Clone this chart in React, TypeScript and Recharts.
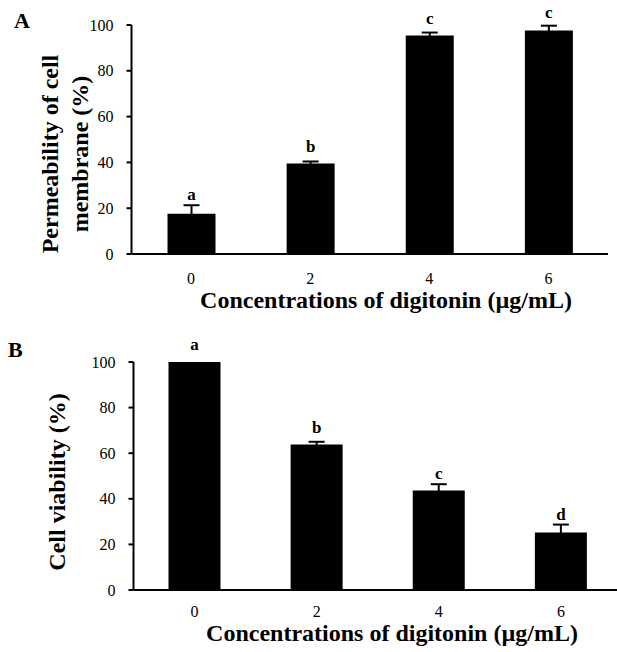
import React from 'react';
import { ComposedChart, Bar, XAxis, YAxis, ErrorBar, LabelList } from 'recharts';

const categories = ['0', '2', '4', '6'];
const permeability = [17.6, 39.5, 95.4, 97.6];
const permeabilityErr = [3.7, 0.9, 1.3, 2.1];
const permeabilityLetters = ['a', 'b', 'c', 'c'];
const viability = [100, 63.8, 43.6, 25.2];
const viabilityErr = [0, 1.2, 2.8, 3.5];
const viabilityLetters = ['a', 'b', 'c', 'd'];
const yTicks = [0, 20, 40, 60, 80, 100];

const serif = '"Liberation Serif", "Times New Roman", serif';
const tickStyle = { fontFamily: serif, fontSize: 16, fill: '#000' };

type PanelProps = {
  values: number[];
  errs: number[];
  letters: string[];
  width: number;
  height: number;
  margin: { top: number; right: number; bottom: number; left: number };
  barSize: number;
  xTickMargin: number;
};

function Panel({ values, errs, letters, width, height, margin, barSize, xTickMargin }: PanelProps) {
  const data = categories.map((c, i) => ({ name: c, value: values[i], err: errs[i] }));

  // letter sits just above the error bar cap
  const renderLetter = (props: any) => {
    const { x, y, width: w, height: h, index } = props;
    const v = values[index];
    const pxPer = v ? h / v : 0;
    const errPx = errs[index] * pxPer;
    const gap = Math.max(errPx + 5, 12);
    return (
      <text
        x={x + w / 2}
        y={y - gap}
        textAnchor="middle"
        fontFamily={serif}
        fontWeight="bold"
        fontSize={17}
        fill="#000"
      >
        {letters[index]}
      </text>
    );
  };

  return (
    <ComposedChart width={width} height={height} data={data} margin={margin}>
      <XAxis
        dataKey="name"
        axisLine={{ stroke: '#000', strokeWidth: 2 }}
        tickLine={false}
        tickSize={6}
        tickMargin={xTickMargin}
        height={40}
        tick={tickStyle}
      />
      <YAxis
        domain={[0, 100]}
        ticks={yTicks}
        width={60}
        axisLine={{ stroke: '#000', strokeWidth: 2 }}
        tickLine={{ stroke: '#000', strokeWidth: 2 }}
        tickSize={5}
        tickMargin={13}
        tick={tickStyle}
        interval={0}
      />
      <Bar dataKey="value" fill="#000" barSize={barSize} isAnimationActive={false}>
        <ErrorBar dataKey="err" width={8} stroke="#000" strokeWidth={2} direction="y" />
        <LabelList dataKey="value" content={renderLetter} />
      </Bar>
    </ComposedChart>
  );
}

export default function App() {
  const titleStyle = { fontFamily: serif, fontWeight: 'bold' as const, fontSize: 24, fill: '#000' };
  return (
    <div
      style={{
        position: 'absolute',
        left: 0,
        top: 0,
        width: 617,
        height: 652,
        overflow: 'hidden',
        background: '#fff',
        fontFamily: serif,
      }}
    >
      <div style={{ position: 'absolute', left: 0, top: 0 }}>
        <Panel
          values={permeability}
          errs={permeabilityErr}
          letters={permeabilityLetters}
          width={617}
          height={320}
          margin={{ top: 25, right: 9, bottom: 26, left: 71.5 }}
          barSize={48}
          xTickMargin={13}
        />
      </div>
      <div style={{ position: 'absolute', left: 0, top: 320 }}>
        <Panel
          values={viability}
          errs={viabilityErr}
          letters={viabilityLetters}
          width={630}
          height={332}
          margin={{ top: 42, right: 8, bottom: 22, left: 73.5 }}
          barSize={52}
          xTickMargin={10}
        />
      </div>
      <svg
        width={617}
        height={652}
        style={{ position: 'absolute', left: 0, top: 0, pointerEvents: 'none' }}
      >
        <text x={14} y={28} fontFamily={serif} fontWeight="bold" fontSize={22} fill="#000">
          A
        </text>
        <text x={8} y={357} fontFamily={serif} fontWeight="bold" fontSize={22} fill="#000">
          B
        </text>
        <g transform="translate(50,154) rotate(-90)">
          <text x={0} y={0} textAnchor="middle" dominantBaseline="central" {...titleStyle}>
            Permeability of cell
          </text>
        </g>
        <g transform="translate(80,154) rotate(-90)">
          <text x={0} y={0} textAnchor="middle" dominantBaseline="central" {...titleStyle}>
            membrane (%)
          </text>
        </g>
        <text x={386} y={308} textAnchor="middle" {...titleStyle}>
          Concentrations of digitonin (µg/mL)
        </text>
        <g transform="translate(57,482) rotate(-90)">
          <text x={0} y={0} textAnchor="middle" dominantBaseline="central" {...titleStyle}>
            Cell viability (%)
          </text>
        </g>
        <text x={392} y={641} textAnchor="middle" {...titleStyle}>
          Concentrations of digitonin (µg/mL)
        </text>
      </svg>
    </div>
  );
}
